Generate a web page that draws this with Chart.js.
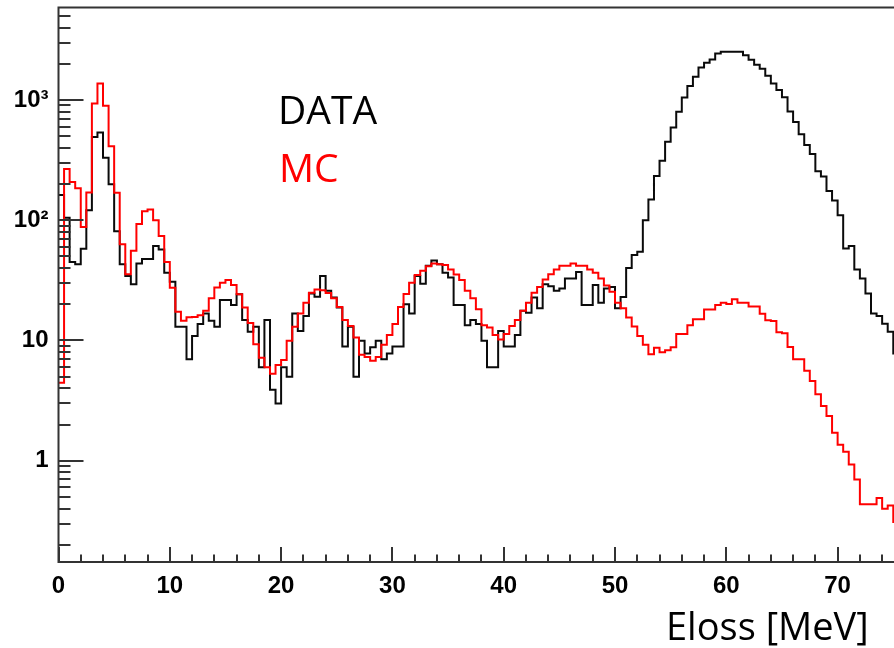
<!DOCTYPE html>
<html>
<head>
<meta charset="utf-8">
<script src="https://cdn.jsdelivr.net/npm/chart.js@4.4.0/dist/chart.umd.min.js"></script>
<style>
html,body{margin:0;padding:0;background:#fff;overflow:hidden;width:894px;height:648px;}
#wrap{position:relative;width:920px;height:648px;}
canvas{position:absolute;left:0;top:0;}
.lbl{position:absolute;font-family:'Open Sans',sans-serif;line-height:1;white-space:nowrap;}
</style>
</head>
<body>
<div id="wrap">
<canvas id="c" width="920" height="648"></canvas>
<div class="lbl" style="left:278px;top:89px;font-size:39px;color:#000;">DATA</div>
<div class="lbl" style="left:279px;top:147px;font-size:39px;color:#ff0000;">MC</div>
<div class="lbl" style="left:666px;top:606px;font-size:38px;color:#000;">Eloss [MeV]</div>
</div>
<script>
// Histogram: Eloss [MeV], 0.5 MeV bins starting at 0
const BIN_WIDTH = 0.5;

const DATA_COUNTS = [
  162,105,45,43,58,121,493,537,330,199,
  81,43,34.3,29.4,43.7,47.5,47.5,61,57,36.5,
  30.8,13,13,7,10.9,13.7,16.8,14.6,13,21.7,
  21.7,19.7,24.2,14.8,11.8,13,6.0,14.8,3.9,3.0,
  6.0,5.0,16.8,12,16,24.6,23.1,34.3,25.9,22.8,
  18.8,8.9,13,5.0,9.95,7.8,8.8,9.95,7.0,7.8,
  8.9,8.9,20,16.8,34.3,29.6,41.8,46.3,43,36.5,
  33.4,19.7,19.7,13.4,14.8,13.7,9.95,6.0,6.0,12,
  8.9,8.9,11.1,17.7,17,22.8,18.5,29.4,28.3,25.9,
  27,32.8,32.8,37.2,19.7,19.7,28.9,20.6,27,27.9,
  18.5,23,40,51.3,54.6,100,149,233,312,449,
  590,796,1049,1303,1557,1863,2040,2173,2430,2512,
  2512,2512,2512,2357,2160,1966,1815,1590,1371,1207,
  1055,800,655,519,422,355,255,231,175,146,
  110,58.3,61,39,32.7,24.6,16.8,16,13.8,11.8,
  7.8
];

const MC_COUNTS = [
  4.45,267,208,184,88,170,935,1371,893,413,
  169,63,35.6,55.7,93,119,123,100,74,45,
  27.4,17.3,14.6,15.6,15.7,16.2,17.7,22.4,27.6,30.2,
  31.8,29,24.2,18.8,14,9.3,7.2,6.0,5.3,6.25,
  6.9,9.95,13,16.8,20.6,24.9,26.6,26.2,24.8,22.4,
  19,14.8,13.2,10.6,7.6,7.3,6.8,7.3,9.2,11.1,
  13.7,19,24.3,30.2,35,38,41.5,43.7,43,42.4,
  39,35.4,31.8,25.9,22.4,18.2,13.4,12.8,11.1,10.2,
  11.3,13.2,14.8,17.7,20.6,24.9,27.9,32.2,35.6,39,
  41.8,41.8,43.7,41.8,41.8,39,36.5,32.8,28.6,25.4,
  20.6,18.5,15.5,13.1,10.9,9.2,7.7,8.7,8.0,8.3,
  8.8,11.3,11.3,13.4,15,15,18.1,18.1,19.7,20.6,
  20.1,22,20.6,20.6,19.2,19.2,16.7,14.7,14.5,11.7,
  11.5,8.85,7.0,7.0,5.6,4.6,3.58,2.85,2.36,1.71,
  1.36,1.19,0.93,0.70,0.436,0.436,0.436,0.49,0.40,0.425,
  0.31
];

const X_TICKS = [0,10,20,30,40,50,60,70];
const X_TICK_LABELS = ['0','10','20','30','40','50','60','70'];
const Y_TICKS = [1,10,100,1000];
const Y_TICK_LABELS = ['1','10','10\u00B2','10\u00B3'];

const X_MIN = 0, X_MAX = 76;
const Y_MIN = 0.144, Y_MAX = 5870;

function histPoints(counts) {
  const pts = counts.map((v, i) => ({x: i * BIN_WIDTH, y: v}));
  pts.push({x: counts.length * BIN_WIDTH, y: counts[counts.length - 1]});
  return pts;
}

const AXIS_COLOR = '#333';

const frameTicks = {
  id: 'frameTicks',
  afterDatasetsDraw(chart) {
    const {ctx, chartArea: a, scales: {x, y}} = chart;
    ctx.save();
    ctx.strokeStyle = AXIS_COLOR;
    ctx.lineWidth = 2;
    ctx.beginPath();
    ctx.moveTo(a.left, a.top); ctx.lineTo(a.right, a.top);
    ctx.lineTo(a.right, a.bottom); ctx.lineTo(a.left, a.bottom); ctx.closePath();
    for (let k = -1; k <= 3; k++) {
      for (let m = 1; m <= 9; m++) {
        const v = m * Math.pow(10, k);
        if (v < Y_MIN || v > Y_MAX) continue;
        const py = Math.round(y.getPixelForValue(v));
        const len = (m === 1) ? 25 : 12;
        ctx.moveTo(a.left, py); ctx.lineTo(a.left + len, py);
      }
    }
    for (let v = X_MIN; v <= X_MAX; v += 2) {
      const px = Math.round(x.getPixelForValue(v));
      const len = (v % 10 === 0) ? 15 : 7.5;
      ctx.moveTo(px, a.bottom); ctx.lineTo(px, a.bottom - len);
    }
    ctx.stroke();
    ctx.restore();
  }
};

function zeroPad(s) { s.paddingLeft = 0; s.paddingRight = 0; s.paddingTop = 0; s.paddingBottom = 0; }

new Chart(document.getElementById('c'), {
  type: 'line',
  data: {
    datasets: [
      {label: 'MC', data: histPoints(MC_COUNTS), borderColor: '#ff0000', borderWidth: 2,
       stepped: true, pointRadius: 0, fill: false, tension: 0},
      {label: 'DATA', data: histPoints(DATA_COUNTS), borderColor: '#0a0a0a', borderWidth: 2,
       stepped: true, pointRadius: 0, fill: false, tension: 0}
    ]
  },
  options: {
    responsive: false,
    animation: false,
    devicePixelRatio: 1,
    layout: {padding: {top: 7.5, right: 15.6, left: 0, bottom: 0}},
    plugins: {legend: {display: false}, tooltip: {enabled: false}, title: {display: false}},
    scales: {
      x: {
        type: 'linear', min: X_MIN, max: X_MAX,
        grid: {display: false, drawTicks: false},
        border: {display: false},
        afterBuildTicks: (s) => { s.ticks = X_TICKS.map(v => ({value: v})); },
        afterFit: (s) => { s.height = 86; zeroPad(s); },
        ticks: {
          autoSkip: false, maxRotation: 0, padding: 10, color: '#000',
          font: {family: 'Liberation Sans', weight: 'bold', size: 24},
          callback: (v) => { const i = X_TICKS.indexOf(v); return i >= 0 ? X_TICK_LABELS[i] : ''; }
        }
      },
      y: {
        type: 'logarithmic', min: Y_MIN, max: Y_MAX,
        grid: {display: false, drawTicks: false},
        border: {display: false},
        afterBuildTicks: (s) => { s.ticks = Y_TICKS.map(v => ({value: v})); },
        afterFit: (s) => { s.width = 58.5; zeroPad(s); },
        ticks: {
          autoSkip: false, padding: 10, color: '#000',
          font: {family: 'Liberation Sans', weight: 'bold', size: 24},
          callback: (v) => { const i = Y_TICKS.indexOf(v); return i >= 0 ? Y_TICK_LABELS[i] : ''; }
        }
      }
    }
  },
  plugins: [frameTicks]
});
</script>
</body>
</html>
